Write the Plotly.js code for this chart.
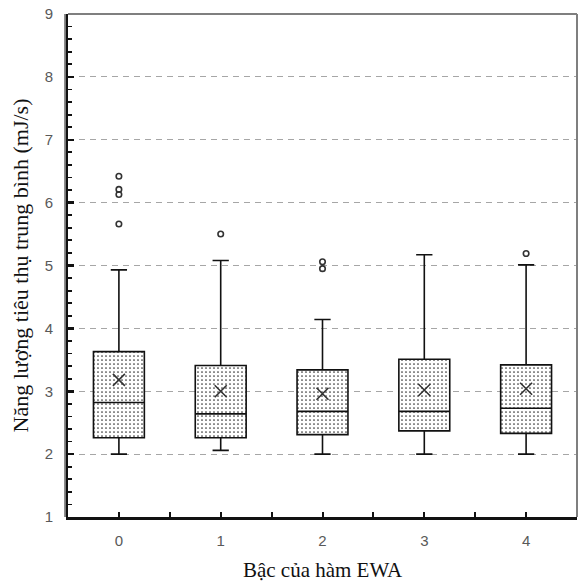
<!DOCTYPE html>
<html>
<head>
<meta charset="utf-8">
<script src="https://cdn.plot.ly/plotly-3.0.1.min.js"></script>
<style>html,body{margin:0;padding:0;background:#fff;}#chart{width:580px;height:586px;}</style>
</head>
<body>
<div id="chart"></div>
<script>
var categories = [0, 1, 2, 3, 4];
var tickLabels = ["0", "1", "2", "3", "4"];
var lowerWhisker = [2.00, 2.06, 2.00, 2.00, 2.00];
var q1Values = [2.26, 2.26, 2.31, 2.37, 2.33];
var medianValues = [2.82, 2.64, 2.68, 2.68, 2.73];
var q3Values = [3.63, 3.41, 3.34, 3.51, 3.42];
var upperWhisker = [4.93, 5.08, 4.14, 5.17, 5.01];
var meanValues = [3.18, 3.00, 2.96, 3.02, 3.04];
var outlierX = [0, 0, 0, 0, 1, 2, 2, 4];
var outlierY = [6.42, 6.21, 6.13, 5.66, 5.50, 5.06, 4.95, 5.19];

var iqr = q3Values.map(function (v, i) { return v - q1Values[i]; });

var traces = [
  {
    type: 'bar',
    x: categories,
    y: iqr,
    base: q1Values,
    width: 0.5,
    marker: {
      color: '#ffffff',
      line: { width: 0 },
      pattern: { shape: '.', fgcolor: '#333', bgcolor: '#ffffff', size: 4, solidity: 0.14 }
    },
    hoverinfo: 'skip',
    showlegend: false
  },
  {
    type: 'box',
    x: categories,
    q1: q1Values,
    median: medianValues,
    q3: q3Values,
    lowerfence: lowerWhisker,
    upperfence: upperWhisker,
    width: 0.5,
    whiskerwidth: 0.32,
    fillcolor: 'rgba(0,0,0,0)',
    line: { color: '#111', width: 1.6 },
    boxpoints: false,
    showlegend: false
  },
  {
    type: 'scatter',
    mode: 'markers',
    x: categories,
    y: meanValues,
    marker: { symbol: 'x-thin-open', size: 12, color: '#333', line: { color: '#333', width: 1.6 } },
    showlegend: false
  },
  {
    type: 'scatter',
    mode: 'markers',
    x: outlierX,
    y: outlierY,
    marker: { symbol: 'circle-open', size: 5.5, color: '#333', line: { color: '#333', width: 1.6 } },
    showlegend: false
  }
];

var layout = {
  width: 580,
  height: 586,
  margin: { l: 68, r: 3, t: 14, b: 69 },
  paper_bgcolor: '#ffffff',
  plot_bgcolor: '#ffffff',
  barmode: 'overlay',
  showlegend: false,
  xaxis: {
    type: 'linear',
    range: [-0.5, 4.5],
    tickvals: categories,
    ticktext: tickLabels,
    ticks: 'inside',
    ticklen: 5,
    tickwidth: 2,
    tickcolor: '#111',
    minor: { dtick: 0.5, tick0: 0.5, ticks: 'inside', ticklen: 5, tickwidth: 2, tickcolor: '#111', showgrid: false },
    showgrid: false,
    zeroline: false,
    showline: true,
    linecolor: '#111',
    linewidth: 2.5,
    tickfont: { family: 'Liberation Sans, Arial, sans-serif', size: 15, color: '#595959' },
    ticklabelstandoff: 8,
    title: { text: 'Bậc của hàm EWA', font: { family: 'Liberation Serif, Times New Roman, serif', size: 21, color: '#111' }, standoff: 15 }
  },
  yaxis: {
    range: [1, 9],
    dtick: 1,
    tick0: 1,
    ticks: 'inside',
    ticklen: 6,
    tickwidth: 2.5,
    tickcolor: '#111',
    minor: { dtick: 0.2, tick0: 1, ticks: 'inside', ticklen: 4, tickwidth: 1.8, tickcolor: '#111', showgrid: false },
    showgrid: true,
    gridcolor: '#a6a6a6',
    griddash: '6px,5px',
    gridwidth: 1.2,
    zeroline: false,
    showline: true,
    linecolor: '#111',
    linewidth: 2,
    tickfont: { family: 'Liberation Sans, Arial, sans-serif', size: 15, color: '#595959' },
    ticklabelstandoff: 10,
    title: { text: 'Năng lượng tiêu thụ trung bình (mJ/s)', font: { family: 'Liberation Serif, Times New Roman, serif', size: 22, color: '#111' }, standoff: 10 }
  },
  shapes: [
    { type: 'line', xref: 'paper', yref: 'paper', x0: 0, x1: 1, y0: 1, y1: 1, line: { color: '#7f7f7f', width: 2 } },
    { type: 'line', xref: 'paper', yref: 'paper', x0: 1, x1: 1, y0: 0, y1: 1, line: { color: '#7f7f7f', width: 2 } },
    { type: 'line', xref: 'paper', yref: 'paper', x0: -0.0058, x1: -0.0058, y0: 0, y1: 1, line: { color: '#333', width: 1.2 } }
  ]
};

Plotly.newPlot('chart', traces, layout, { displayModeBar: false, staticPlot: true });
</script>
</body>
</html>
